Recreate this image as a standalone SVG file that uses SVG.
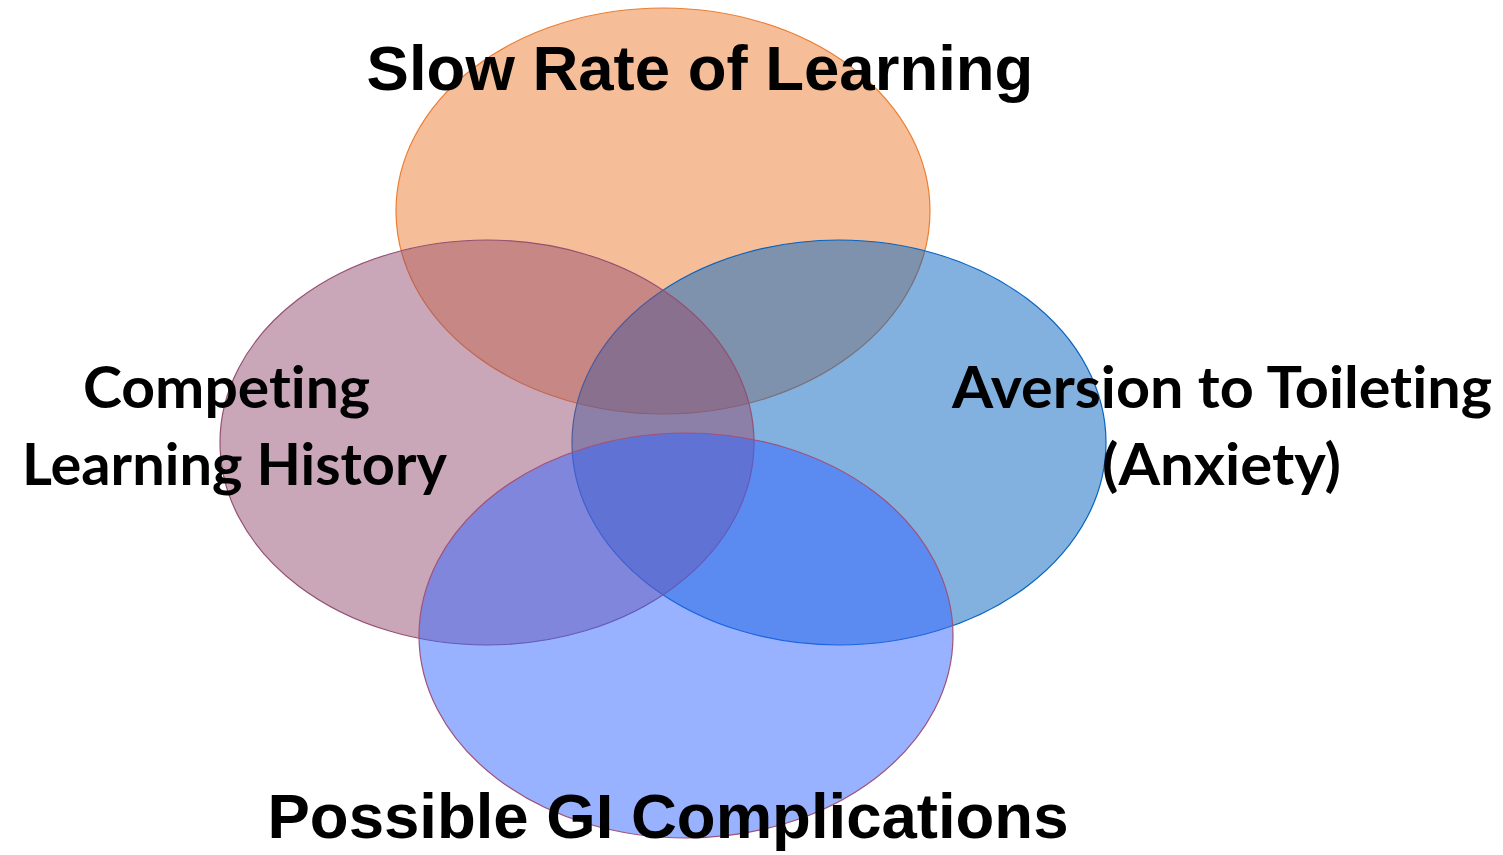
<svg xmlns="http://www.w3.org/2000/svg" width="1503" height="855" viewBox="0 0 1503 855">
  <style>
    .set { fill-opacity: 0.5; stroke-width: 1.2; }
    .title { font-family: "Liberation Sans", Arial, sans-serif; font-weight: bold; font-size: 63.5px; fill: #000; }
    .side { font-family: Lato, "Open Sans", sans-serif; font-weight: bold; font-size: 57px; fill: #000;
            font-variant-ligatures: none; font-feature-settings: "liga" 0, "clig" 0; }
  </style>
  <rect width="1503" height="855" fill="#ffffff"/>

  <!-- four overlapping sets -->
  <g id="set-slow-rate">
    <ellipse class="set" cx="663" cy="211" rx="267" ry="203" fill="#ED7D31" stroke="#ED7D31"/>
  </g>
  <g id="set-aversion">
    <ellipse class="set" cx="839" cy="442.5" rx="267" ry="202.5" fill="#0563C1" stroke="#0563C1"/>
  </g>
  <g id="set-competing">
    <ellipse class="set" cx="487" cy="442.5" rx="267" ry="202.5" fill="#954F72" stroke="#954F72"/>
  </g>
  <g id="set-gi">
    <ellipse class="set" cx="686" cy="635.5" rx="267" ry="202.5" fill="#3366FF" stroke="#A0527A"/>
  </g>

  <g id="connectors"></g>

  <!-- labels -->
  <g id="label-slow-rate">
    <text class="title" x="700" y="90" text-anchor="middle">Slow Rate of Learning</text>
  </g>
  <g id="label-competing">
    <text class="side" x="83" y="408" textLength="287" lengthAdjust="spacingAndGlyphs">Competing</text>
    <text class="side" x="22" y="485" textLength="425" lengthAdjust="spacingAndGlyphs">Learning History</text>
  </g>
  <g id="label-aversion">
    <text class="side" x="952" y="408" textLength="540" lengthAdjust="spacingAndGlyphs">Aversion to Toileting</text>
    <text class="side" x="1102" y="485" textLength="239" lengthAdjust="spacingAndGlyphs">(Anxiety)</text>
  </g>
  <g id="label-gi">
    <text class="title" x="668" y="838" text-anchor="middle">Possible GI Complications</text>
  </g>
</svg>
